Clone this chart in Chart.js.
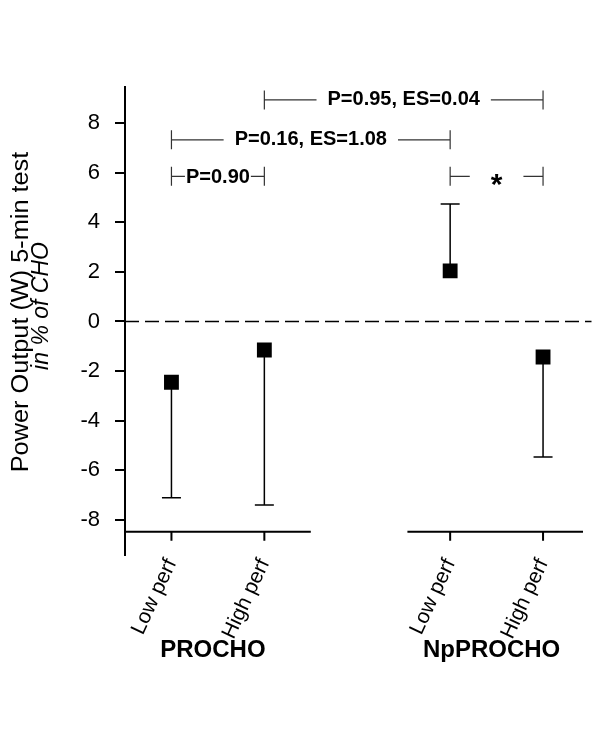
<!DOCTYPE html>
<html>
<head>
<meta charset="utf-8">
<script src="https://cdn.jsdelivr.net/npm/chart.js@4"></script>
<style>
  html, body { margin: 0; padding: 0; background: #fff; }
</style>
</head>
<body>
<canvas id="chart" width="600" height="729"></canvas>
<script>
const categories = ['Low perf', 'High perf', 'Low perf', 'High perf'];
const xPositions = [0, 1, 3, 4];
const means = [-2.45, -1.15, 2.04, -1.43];
const errorEnds = [-7.1, -7.4, 4.73, -5.46];
const groups = ['PROCHO', 'NpPROCHO'];
const groupMembers = [[0, 1], [3, 4]];
const yTicks = [-8, -6, -4, -2, 0, 2, 4, 6, 8];
const bracketFrom = [0, 0, 1, 3];
const bracketTo = [1, 3, 4, 4];
const bracketY = [5.85, 7.32, 8.93, 5.85];
const bracketLabels = ['P=0.90', 'P=0.16, ES=1.08', 'P=0.95, ES=0.04', '*'];
const refLine = 0;
const xAxisValue = -8.47;
const xAxisSegments = [[-0.5, 1.5], [2.54, 4.43]];

const FONT = "'Liberation Sans', Arial, sans-serif";
const bracketGap = [1, 11, 11, 21];

// error bars, dashed zero line (under the markers)
const underlay = {
  id: 'underlay',
  beforeDatasetsDraw(chart) {
    const { ctx, chartArea, scales: { x, y } } = chart;
    ctx.save();
    ctx.strokeStyle = '#000';
    ctx.lineWidth = 1.5;
    ctx.setLineDash([14, 6]);
    const y0 = y.getPixelForValue(refLine);
    ctx.beginPath();
    ctx.moveTo(chartArea.left, y0);
    ctx.lineTo(chartArea.right + 2, y0);
    ctx.stroke();
    ctx.setLineDash([]);

    xPositions.forEach((xv, i) => {
      const px = x.getPixelForValue(xv);
      const pm = y.getPixelForValue(means[i]);
      const pe = y.getPixelForValue(errorEnds[i]);
      ctx.beginPath();
      ctx.moveTo(px, pm);
      ctx.lineTo(px, pe);
      ctx.moveTo(px - 9.5, pe);
      ctx.lineTo(px + 9.5, pe);
      ctx.stroke();
    });
    ctx.restore();
  }
};

// broken x axis, brackets, axis title, group labels
const overlay = {
  id: 'overlay',
  afterDraw(chart) {
    const { ctx, chartArea, scales: { x, y } } = chart;
    ctx.save();

    // x axis pieces + tick marks
    const ya = y.getPixelForValue(xAxisValue);
    ctx.strokeStyle = '#000';
    ctx.lineWidth = 2;
    ctx.beginPath();
    xAxisSegments.forEach(([a, b]) => {
      ctx.moveTo(x.getPixelForValue(a), ya);
      ctx.lineTo(x.getPixelForValue(b), ya);
    });
    xPositions.forEach(v => {
      const px = x.getPixelForValue(v);
      ctx.moveTo(px, ya);
      ctx.lineTo(px, ya + 9);
    });
    ctx.stroke();

    // significance brackets
    ctx.fillStyle = '#000';
    ctx.textAlign = 'center';
    ctx.textBaseline = 'alphabetic';
    bracketLabels.forEach((label, i) => {
      const star = label === '*';
      ctx.font = star ? `bold 30px ${FONT}` : `bold 20px ${FONT}`;
      const x1 = x.getPixelForValue(bracketFrom[i]);
      const x2 = x.getPixelForValue(bracketTo[i]);
      const py = y.getPixelForValue(bracketY[i]);
      const m = ctx.measureText(label);
      const cx = (x1 + x2) / 2;
      const half = m.width / 2 + bracketGap[i];
      ctx.strokeStyle = '#333';
      ctx.lineWidth = 1.2;
      ctx.beginPath();
      ctx.moveTo(x1, py - 9.5); ctx.lineTo(x1, py + 9.5);
      ctx.moveTo(x2, py - 9.5); ctx.lineTo(x2, py + 9.5);
      ctx.moveTo(x1, py); ctx.lineTo(cx - half, py);
      ctx.moveTo(cx + half, py); ctx.lineTo(x2, py);
      ctx.stroke();
      const off = (m.actualBoundingBoxAscent - m.actualBoundingBoxDescent) / 2 + (star ? 4 : 0);
      ctx.fillText(label, cx, py + off);
    });

    // group labels
    ctx.font = `bold 24px ${FONT}`;
    groups.forEach((g, i) => {
      const [a, b] = groupMembers[i];
      const cx = (x.getPixelForValue(a) + x.getPixelForValue(b)) / 2 - 5;
      ctx.fillText(g, cx, 657);
    });

    // y axis title, two lines, second italic (first one a bit stretched like the original)
    const cy = (chartArea.top + chartArea.bottom) / 2;
    ctx.save();
    ctx.translate(28, cy - 9);
    ctx.rotate(-Math.PI / 2);
    ctx.scale(1.1, 1);
    ctx.font = `23px ${FONT}`;
    ctx.fillText('Power Output (W) 5-min test', 0, 0);
    ctx.restore();
    ctx.save();
    ctx.translate(47.5, cy - 15);
    ctx.rotate(-Math.PI / 2);
    ctx.font = `italic 23px ${FONT}`;
    ctx.fillText('in % of CHO', 0, 0);
    ctx.restore();
    ctx.restore();
  }
};

new Chart(document.getElementById('chart').getContext('2d'), {
  type: 'scatter',
  data: {
    datasets: [{
      data: xPositions.map((v, i) => ({ x: v, y: means[i] })),
      pointStyle: 'rect',
      pointRadius: 10.5,
      pointHoverRadius: 10.5,
      backgroundColor: '#000',
      borderColor: '#000',
      borderWidth: 0
    }]
  },
  options: {
    responsive: false,
    animation: false,
    layout: { padding: { top: 87, right: 10.5, left: 0, bottom: 0 } },
    plugins: {
      legend: { display: false },
      tooltip: { enabled: false }
    },
    scales: {
      x: {
        type: 'linear',
        min: -0.5,
        max: 4.5,
        afterBuildTicks: s => { s.ticks = xPositions.map(v => ({ value: v })); },
        afterFit: s => { s.height = 174; },
        grid: { display: false, drawTicks: false },
        border: { display: false },
        ticks: {
          autoSkip: false,
          minRotation: 65,
          maxRotation: 65,
          padding: 0,
          color: '#000',
          font: { size: 21, family: FONT },
          callback: (v, i) => categories[i]
        }
      },
      y: {
        min: -9.41,
        max: 9.45,
        afterBuildTicks: s => { s.ticks = yTicks.map(v => ({ value: v })); },
        afterFit: s => { s.width = 125; },
        grid: { drawOnChartArea: false, drawTicks: true, tickLength: 10, color: '#000', lineWidth: 2 },
        border: { display: true, color: '#000', width: 2 },
        ticks: {
          padding: 15,
          color: '#000',
          font: { size: 22, family: FONT },
          callback: v => String(v)
        }
      }
    }
  },
  plugins: [underlay, overlay]
});
</script>
</body>
</html>
